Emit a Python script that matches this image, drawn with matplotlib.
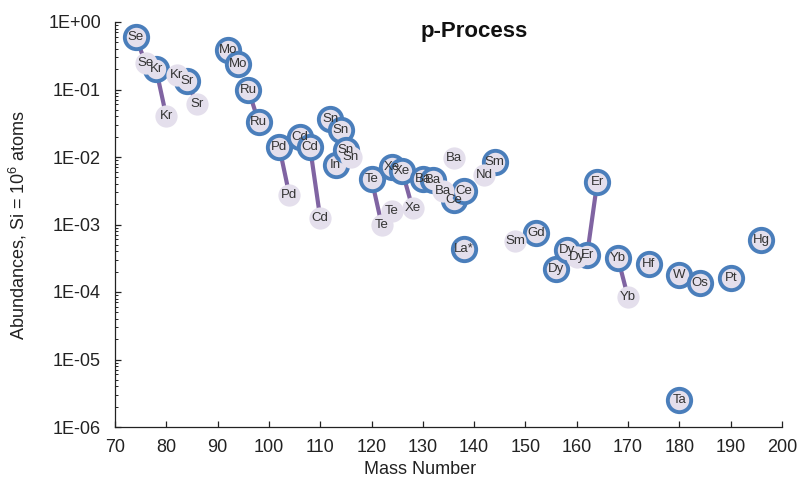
import matplotlib.pyplot as plt
from matplotlib.ticker import FuncFormatter, LogLocator, MultipleLocator, NullFormatter
import numpy as np

plt.rcParams['font.family'] = ['Liberation Sans', 'DejaVu Sans']
plt.rcParams['mathtext.fontset'] = 'custom'
plt.rcParams['mathtext.rm'] = 'Liberation Sans'
plt.rcParams['mathtext.default'] = 'rm'

# p-nuclei (ringed markers)
p_labels = ['Se', 'Kr', 'Sr', 'Mo', 'Mo', 'Ru', 'Ru', 'Pd', 'Cd', 'Cd',
            'Sn', 'In', 'Sn', 'Sn', 'Te', 'Xe', 'Xe', 'Ba', 'Ba', 'Ce',
            'Ce', 'La*', 'Sm', 'Gd', 'Dy', 'Dy', 'Er', 'Er', 'Yb', 'Hf',
            'W', 'Ta', 'Os', 'Pt', 'Hg']
p_mass = [74, 78, 84, 92, 94, 96, 98, 102, 106, 108,
          112, 113, 114, 115, 120, 124, 126, 130, 132, 136,
          138, 138, 144, 152, 156, 158, 162, 164, 168, 174,
          180, 180, 184, 190, 196]
p_abund = [0.60, 0.20, 0.135, 0.38, 0.24, 0.098, 0.033, 0.0142, 0.020, 0.0142,
           0.036, 0.0076, 0.025, 0.0127, 0.0047, 0.0070, 0.0061, 0.0048, 0.0046, 0.0023,
           0.0031, 0.00044, 0.0085, 0.00074, 0.00022, 0.00042, 0.00035, 0.0043, 0.00032, 0.00026,
           0.00018, 2.5e-6, 0.000135, 0.00016, 0.00059]

# s-only isotopes (plain markers)
s_labels = ['Se', 'Kr', 'Kr', 'Sr', 'Pd', 'Cd', 'Sn', 'Te', 'Te', 'Xe',
            'Ba', 'Ba', 'Nd', 'Sm', 'Dy', 'Yb']
s_mass = [76, 80, 82, 86, 104, 110, 116, 122, 124, 128,
          134, 136, 142, 148, 160, 170]
s_abund = [0.245, 0.040, 0.164, 0.060, 0.0027, 0.00124, 0.0101, 0.00098, 0.00158, 0.00174,
           0.0031, 0.0096, 0.0054, 0.00056, 0.00033, 8.3e-5]

# isotopes of one element joined by a line
pairs = [('Se', 74, 76), ('Kr', 78, 80), ('Sr', 84, 86), ('Ru', 96, 98),
         ('Pd', 102, 104), ('Cd', 108, 110), ('Te', 120, 122), ('Xe', 126, 128),
         ('Er', 162, 164), ('Yb', 168, 170)]

lookup = {}
for lab, m, a in zip(p_labels + s_labels, p_mass + s_mass, p_abund + s_abund):
    lookup[(lab, m)] = a

fig = plt.figure(figsize=(8.01, 4.87), dpi=100)
ax = fig.add_axes([115 / 801, 1 - 427 / 487, (782 - 115) / 801, (427 - 22) / 487])

fill = '#e4dfec'
ring = '#4a7ebb'

for el, m1, m2 in pairs:
    ax.plot([m1, m2], [lookup[(el, m1)], lookup[(el, m2)]], color='#8064a2',
            lw=3, solid_capstyle='butt', zorder=2)

ax.plot(p_mass, p_abund, 'o', ms=16.8, mfc=fill, mec=ring, mew=2.8, zorder=3, clip_on=False)
ax.plot(s_mass, s_abund, 'o', ms=16, mfc=fill, mec='none', zorder=4, clip_on=False)

for lab, m, a in zip(p_labels + s_labels, p_mass + s_mass, p_abund + s_abund):
    ax.text(m, a, lab, ha='center', va='center', fontsize=9.5, color='#333333', zorder=5)

ax.set_yscale('log')
ax.set_xlim(70, 200)
ax.set_ylim(1e-6, 1)
ax.xaxis.set_major_locator(MultipleLocator(10))
ax.yaxis.set_major_locator(LogLocator(base=10, numticks=10))
ax.yaxis.set_minor_locator(LogLocator(base=10, subs=np.arange(2, 10), numticks=20))
ax.yaxis.set_minor_formatter(NullFormatter())
ax.yaxis.set_major_formatter(FuncFormatter(lambda v, pos: '1E{:+03d}'.format(int(round(np.log10(v))))))

for side in ['top', 'right']:
    ax.spines[side].set_visible(False)
for side in ['left', 'bottom']:
    ax.spines[side].set_color('#222222')
    ax.spines[side].set_linewidth(0.9)

ax.tick_params(axis='both', which='major', direction='in', length=4, width=0.9,
               labelsize=13, colors='#222222')
ax.tick_params(axis='y', which='minor', direction='in', length=2.5, width=0.7, colors='#222222')
ax.tick_params(axis='y', which='major', pad=10)
ax.tick_params(axis='x', which='major', pad=9)

fig.text(474 / 801, 1 - 32 / 487, 'p-Process', ha='center', va='center',
         fontsize=16, fontweight='bold', color='#111111')
fig.text(420 / 801, 1 - 470 / 487, 'Mass Number', ha='center', va='center',
         fontsize=13, color='#222222')
fig.text(18 / 801, 1 - 225 / 487, r'Abundances, Si = 10$^{6}$ atoms', ha='center', va='center',
         rotation=90, fontsize=13, color='#222222')

fig.savefig('out.png', dpi=100)
